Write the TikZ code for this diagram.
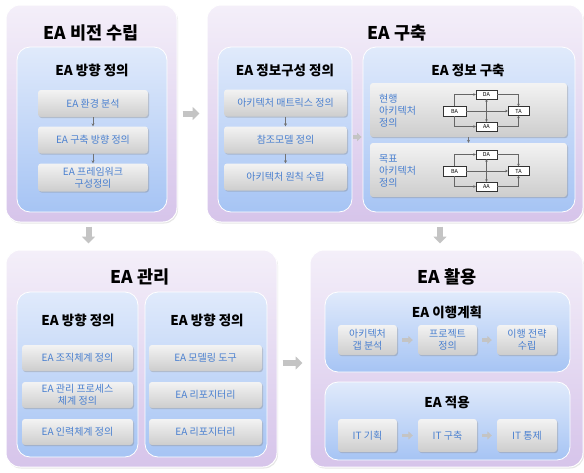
\documentclass[tikz,border=0pt]{standalone}
\usepackage{fontspec}
\setmainfont{Noto Sans CJK KR}
\usetikzlibrary{arrows.meta, positioning, shadows, calc}
\definecolor{pTop}{HTML}{F4EFF9}
\definecolor{pBot}{HTML}{D6C4EA}
\definecolor{iTop}{HTML}{E0EAFB}
\definecolor{iBot}{HTML}{A6C4F4}
\definecolor{gTop}{HTML}{F3F3F3}
\definecolor{gBot}{HTML}{CDCDCD}
\definecolor{txtBlue}{HTML}{4A80D0}
\definecolor{blkGray}{HTML}{C4C4C4}

\begin{document}
\begin{tikzpicture}[x=1pt,y=-1pt,
  panel/.style={draw=white,line width=1pt,rounded corners=14pt,top color=pTop,bottom color=pBot,inner sep=0pt,drop shadow={opacity=0.2,shadow xshift=1pt,shadow yshift=-1.5pt}},
  inner/.style={draw=white,line width=0.8pt,rounded corners=13pt,top color=iTop,bottom color=iBot,inner sep=0pt},
  gb/.style={rounded corners=3pt,top color=gTop,bottom color=gBot,inner sep=1pt,align=center,font=\fontsize{10}{12}\selectfont,text=txtBlue,drop shadow={opacity=0.35,shadow xshift=1pt,shadow yshift=-1.2pt}},
  lbl/.style={anchor=west,align=left,inner sep=0pt,text=txtBlue,font=\fontsize{10}{12}\selectfont},
  ttl/.style={font=\fontsize{17.5}{20}\selectfont\bfseries},
  sub/.style={font=\fontsize{13.5}{16}\selectfont\bfseries},
  mini/.style={draw=black!80,line width=0.4pt,fill=white,inner sep=0pt,font=\fontsize{5.5}{6}\selectfont,drop shadow={opacity=0.3,shadow xshift=0.6pt,shadow yshift=-0.6pt}},
  blk/.style={line width=6pt,draw=blkGray,-{Triangle[length=7pt,width=13pt]}},
  sblk/.style={line width=3.5pt,draw=blkGray,-{Triangle[length=4.5pt,width=8pt]}},
  arr/.style={-{Stealth[length=3pt,width=3pt]},draw=black!55,line width=0.5pt},
  marr/.style={-{Stealth[length=2.5pt,width=2.5pt]},draw=black!60,line width=0.4pt}
]
\useasboundingbox (0,0) rectangle (584,472);

% EA 비전 수립
\node[panel,minimum width=171,minimum height=217](p1) at (91.5,113.5){};
\node[ttl](t1) at (91,33){EA 비전 수립};
\node[inner,minimum width=150,minimum height=165](i1) at (92,129.5){};
\node[sub](s1) at (92,70){EA 방향 정의};
\node[gb,minimum width=110,minimum height=27](a1) at (93,103.5){EA 환경 분석};
\node[gb,minimum width=110,minimum height=27](a2) at (93,140){EA 구축 방향 정의};
\node[gb,minimum width=110,minimum height=28](a3) at (93,177.5){EA 프레임워크\\구성정의};

% EA 구축
\node[panel,minimum width=376,minimum height=217](p2) at (395,113.5){};
\node[ttl](t2) at (397,33){EA 구축};
\node[inner,minimum width=134,minimum height=165](i2) at (285,129.5){};
\node[sub](s2) at (285,70){EA 정보구성 정의};
\node[gb,minimum width=123,minimum height=27](b1) at (285.5,103){아키텍처 매트릭스 정의};
\node[gb,minimum width=123,minimum height=27](b2) at (285.5,140){참조모델 정의};
\node[gb,minimum width=123,minimum height=27](b3) at (285.5,177){아키텍처 원칙 수립};
\node[inner,minimum width=212,minimum height=165](i3) at (469,129.5){};
\node[sub](s3) at (468,70){EA 정보 구축};
\node[gb,minimum width=197,minimum height=54](c1) at (468.5,110){};
\node[gb,minimum width=197,minimum height=54](c2) at (468.5,170){};
\node[lbl](l1) at (379,111){현행\\아키텍처\\정의};
\node[lbl](l2) at (379,171){목표\\아키텍처\\정의};
\foreach \n/\dy in {1/0,2/60}{
  \node[mini,minimum width=23,minimum height=10](ba\n) at (454.5,111+\dy){BA};
  \node[mini,minimum width=21,minimum height=9](da\n) at (486.5,94.5+\dy){DA};
  \node[mini,minimum width=21,minimum height=9](ta\n) at (518.5,111+\dy){TA};
  \node[mini,minimum width=21,minimum height=9](aa\n) at (486.5,126.5+\dy){AA};
  \draw[marr](ba\n.north) |- (da\n.west);
  \draw[marr](ba\n.south) |- (aa\n.west);
  \draw[marr](ba\n.east) -- (ta\n.west);
  \draw[marr](da\n.east) -| (ta\n.north);
  \draw[marr](aa\n.east) -| (ta\n.south);
  \draw[marr,{Stealth[length=2.5pt,width=2.5pt]}-{Stealth[length=2.5pt,width=2.5pt]}](da\n.south) -- (aa\n.north);
}

% EA 관리
\node[panel,minimum width=271,minimum height=217](p3) at (141.5,358.5){};
\node[ttl](t3) at (140,277){EA 관리};
\node[inner,minimum width=121,minimum height=165](j1) at (77.5,374.5){};
\node[sub](s4) at (78,320){EA 방향 정의};
\node[gb,minimum width=111,minimum height=26](d1) at (77.5,358){EA 조직체계 정의};
\node[gb,minimum width=111,minimum height=26](d2) at (77.5,395){EA 관리 프로세스\\체계 정의};
\node[gb,minimum width=111,minimum height=26](d3) at (77.5,432){EA 인력체계 정의};
\node[inner,minimum width=122,minimum height=165](j2) at (206,374.5){};
\node[sub](s5) at (207,320){EA 방향 정의};
\node[gb,minimum width=113,minimum height=26](e1) at (205.5,358){EA 모델링 도구};
\node[gb,minimum width=113,minimum height=26](e2) at (205.5,395){EA 리포지터리};
\node[gb,minimum width=113,minimum height=26](e3) at (205.5,432){EA 리포지터리};

% EA 활용
\node[panel,minimum width=273,minimum height=217](p4) at (446.5,358.5){};
\node[ttl](t4) at (447,277){EA 활용};
\node[inner,minimum width=245,minimum height=80](k1) at (447.5,332){};
\node[sub](s6) at (447,312){EA 이행계획};
\node[gb,minimum width=59,minimum height=30](f1) at (367.5,340){아키텍처\\갭 분석};
\node[gb,minimum width=59,minimum height=30](f2) at (447.5,340){프로젝트\\정의};
\node[gb,minimum width=60,minimum height=30](f3) at (527,340){이행 전략\\수립};
\node[inner,minimum width=245,minimum height=78](k2) at (447.5,421){};
\node[sub](s7) at (447,402){EA 적용};
\node[gb,minimum width=59,minimum height=33](g1) at (367.5,435.5){IT 기획};
\node[gb,minimum width=59,minimum height=33](g2) at (447.5,435.5){IT 구축};
\node[gb,minimum width=60,minimum height=33](g3) at (527,435.5){IT 통제};

% connectors
\foreach \x/\y in {a1/a2,a2/a3,b1/b2,b2/b3}{\draw[arr](\x)--(\y);}
\foreach \x/\y in {f1/f2,f2/f3,g1/g2,g2/g3}{\draw[sblk,shorten <=5pt,shorten >=5pt](\x)--(\y);}
\draw[sblk,shorten <=1pt,shorten >=1pt](i2.east |- 0,137) -- (i3.west |- 0,137);
\draw[arr](c1)--(c2);
\draw[blk,shorten <=5pt,shorten >=7pt](p1.east) -- (p2.west);
\draw[blk,shorten <=4pt,shorten >=6pt]($(p1.south)+(-3,0)$) -- ($(p1.south |- p3.north)+(-3,0)$);
\draw[blk,shorten <=4pt,shorten >=6pt](p2.south -| 440,0) -- (p4.north -| 440,0);
\draw[blk,shorten <=5pt,shorten >=7pt](p3.east |- 0,363) -- (p4.west |- 0,363);
\end{tikzpicture}
\end{document}
